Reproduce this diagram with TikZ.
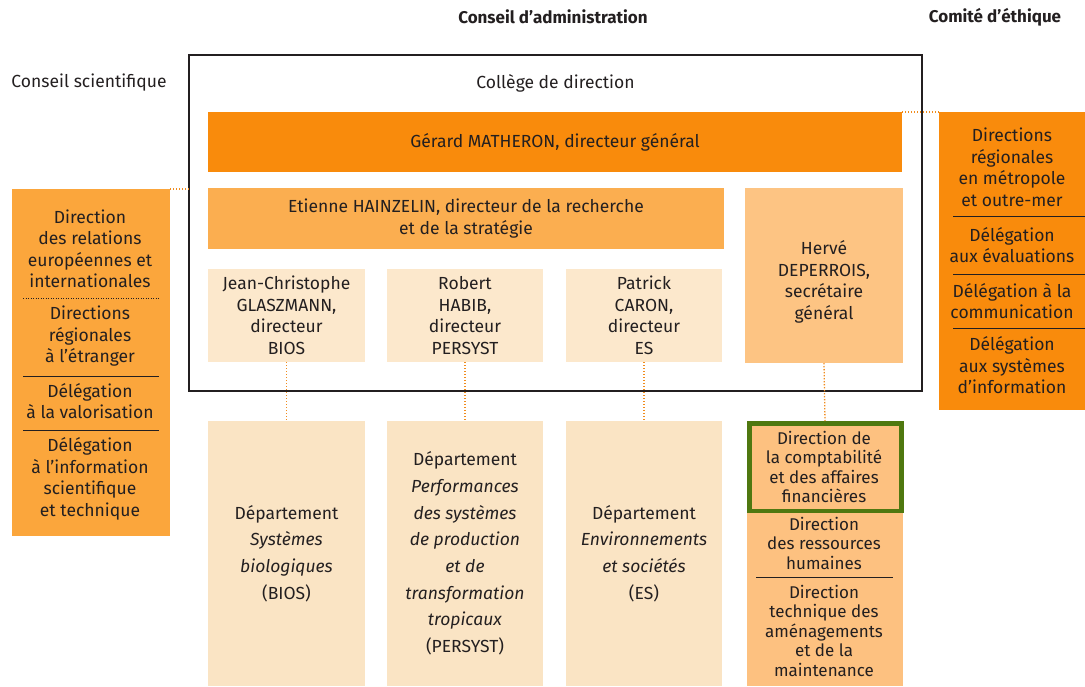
\documentclass[tikz,border=0pt]{standalone}
\usepackage{fontspec}
\setmainfont{Fira Sans}
\definecolor{dorange}{RGB}{249,139,12}
\definecolor{lorange}{RGB}{251,166,60}
\definecolor{etorange}{RGB}{251,174,80}
\definecolor{hvorange}{RGB}{253,196,131}
\definecolor{dirpale}{RGB}{252,232,204}
\definecolor{deptpale}{RGB}{250,228,196}
\definecolor{dafcol}{RGB}{253,193,128}
\definecolor{greenb}{RGB}{79,120,16}
\definecolor{dotc}{RGB}{240,140,30}
\definecolor{textc}{RGB}{35,31,32}
\begin{document}
\begin{tikzpicture}[x=1pt,y=-1pt,
  box/.style={rectangle, inner sep=0pt, outer sep=0pt, anchor=north west, align=center, text=textc, font=\fontsize{17.5}{21.5}\selectfont},
  txt/.style={align=center, text=textc, inner sep=0pt, font=\fontsize{17.5}{21.5}\selectfont},
  depttxt/.style={txt, font=\fontsize{17.5}{26.7}\selectfont},
  daftxt/.style={txt, font=\fontsize{17}{19.5}\selectfont},
  dots/.style={draw=dotc, line width=1.3pt, dash pattern=on 1.3pt off 1.7pt},
  sepline/.style={draw=textc, line width=1pt},
  sepdots/.style={draw=textc, line width=1pt, dash pattern=on 1pt off 1.5pt}]
\useasboundingbox (0,0) rectangle (1085,686);
% headers
\node[txt, font=\fontsize{17}{19}\selectfont\bfseries] (hca) at (553,17) {Conseil d’administration};
\node[txt, font=\fontsize{17}{19}\selectfont\bfseries] (hce) at (995,17) {Comité d’éthique};
\node[txt] (hcs) at (89,83) {Conseil scientifique};
% college
\node[box, draw=textc, line width=1.3pt, minimum width=733pt, minimum height=336pt] (college) at (189,55) {};
\node[txt] (collt) at (555.5,83) {Collège de direction};
\node[box, fill=dorange, minimum width=694pt, minimum height=60pt] (gm) at (208,112) {Gérard MATHERON, directeur général};
\node[box, fill=etorange, minimum width=516pt, minimum height=61pt] (eh) at (208,188) {Etienne HAINZELIN, directeur de la recherche\\et de la stratégie};
\node[box, fill=dirpale, minimum width=157pt, minimum height=93pt] (jc) at (208,269) {Jean-Christophe\\GLASZMANN,\\directeur\\BIOS};
\node[box, fill=dirpale, minimum width=156pt, minimum height=93pt] (rh) at (387,269) {Robert\\HABIB,\\directeur\\PERSYST};
\node[box, fill=dirpale, minimum width=156pt, minimum height=93pt] (pc) at (566,269) {Patrick\\CARON,\\directeur\\ES};
\node[box, fill=hvorange, minimum width=158pt, minimum height=175pt] (hd) at (745,188) {};
\node[txt] (hdt) at (824,282) {Hervé\\DEPERROIS,\\secrétaire\\général};
% departments
\node[box, fill=deptpale, minimum width=157pt, minimum height=265pt] (d1) at (208,421) {};
\node[depttxt] (d1t) at (286.5,553.5) {Département\\\textit{Systèmes}\\\textit{biologiques}\\(BIOS)};
\node[box, fill=deptpale, minimum width=156pt, minimum height=265pt] (d2) at (387,421) {};
\node[depttxt] (d2t) at (465,553.5) {Département\\\textit{Performances}\\\textit{des systèmes}\\\textit{de production}\\\textit{et de}\\\textit{transformation}\\\textit{tropicaux}\\(PERSYST)};
\node[box, fill=deptpale, minimum width=156pt, minimum height=265pt] (d3) at (566,421) {};
\node[depttxt] (d3t) at (644,553.5) {Département\\\textit{Environnements}\\\textit{et sociétés}\\(ES)};
% DAF column
\node[box, fill=dafcol, minimum width=156pt, minimum height=265pt] (daf) at (747,421) {};
\draw[draw=greenb, line width=4.5pt] (749.5,423.5) rectangle (901.5,511);
\node[daftxt] (daf1) at (824,467) {Direction de\\la comptabilité\\et des affaires\\financières};
\node[daftxt] (daf2) at (824,543) {Direction\\des ressources\\humaines};
\draw[sepline] (756,577) -- (893,577);
\node[daftxt] (daf3) at (824,630.5) {Direction\\technique des\\aménagements\\et de la\\maintenance};
% left column
\node[box, fill=lorange, minimum width=158pt, minimum height=347pt] (lc) at (12,189) {};
\node[txt] (lc1) at (90,249) {Direction\\des relations\\européennes et\\internationales};
\draw[sepdots] (23,298) -- (159,298);
\node[txt] (lc2) at (90,336.5) {Directions\\régionales\\à l’étranger};
\draw[sepline] (23,376) -- (159,376);
\node[txt] (lc3) at (90,401) {Délégation\\à la valorisation};
\draw[sepline] (23,430) -- (159,430);
\node[txt] (lc4) at (90,479) {Délégation\\à l’information\\scientifique\\et technique};
% right column
\node[box, fill=dorange, minimum width=146pt, minimum height=298pt] (rc) at (939,112) {};
\node[txt] (rc1) at (1012,167.5) {Directions\\régionales\\en métropole\\et outre-mer};
\draw[sepline] (953,216) -- (1085,216);
\node[txt] (rc2) at (1012,245) {Délégation\\aux évaluations};
\draw[sepline] (953,274) -- (1085,274);
\node[txt] (rc3) at (1012,301) {Délégation à la\\communication};
\draw[sepline] (953,328) -- (1085,328);
\node[txt] (rc4) at (1012,365.5) {Délégation\\aux systèmes\\d’information};
% connectors
\draw[dots] (jc.south) -- (d1.north);
\draw[dots] (rh.south) -- (d2.north);
\draw[dots] (pc.south) -- (d3.north);
\draw[dots] (hd.south) -- (daf.north);
\draw[dots] (lc.north east) -- (lc.north east -| college.west);
\draw[dots] (gm.north east) -- (rc.north west);
\end{tikzpicture}
\end{document}
